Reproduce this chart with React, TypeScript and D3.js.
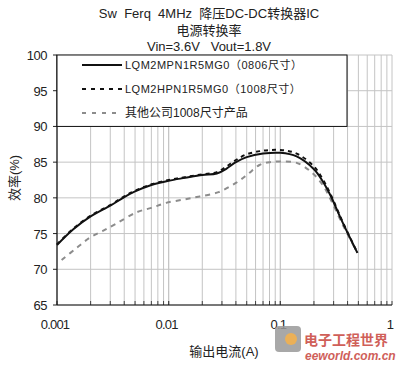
import React, { useEffect, useRef } from 'react'
import * as d3 from 'd3'

const currents1 = [0.001, 0.0014, 0.002, 0.003, 0.004, 0.005, 0.007, 0.01, 0.014, 0.02, 0.027, 0.033, 0.04, 0.05, 0.07, 0.1, 0.14, 0.2, 0.24, 0.28, 0.36, 0.49]
const effMP = [73.4, 75.6, 77.4, 78.9, 80.1, 80.9, 81.8, 82.4, 82.8, 83.2, 83.4, 84.1, 85.0, 85.7, 86.2, 86.3, 85.8, 84.0, 82.3, 80.4, 76.6, 72.3]
const effHP = [73.5, 75.7, 77.5, 79.0, 80.2, 81.0, 81.9, 82.5, 82.9, 83.3, 83.6, 84.4, 85.3, 86.1, 86.6, 86.7, 86.2, 84.4, 82.6, 80.6, 76.7, 72.3]

const currents3 = [0.0011, 0.0015, 0.002, 0.0026, 0.0034, 0.0052, 0.007, 0.0095, 0.014, 0.019, 0.028, 0.04, 0.051, 0.065, 0.08, 0.1, 0.14, 0.19, 0.24, 0.29, 0.36, 0.49]
const effOther = [71.3, 73.0, 74.5, 75.4, 76.4, 78.0, 78.6, 79.3, 79.8, 80.2, 80.8, 82.1, 83.3, 84.6, 85.0, 85.1, 84.9, 83.6, 81.8, 79.4, 76.3, 72.3]

const yTicks = [65, 70, 75, 80, 85, 90, 95, 100]
const xTicks = [0.001, 0.01, 0.1, 1]
const xTickLabels = ['0.001', '0.01', '0.1', '1']
const legendLabels = ['LQM2MPN1R5MG0（0806尺寸）', 'LQM2HPN1R5MG0（1008尺寸）', '其他公司1008尺寸产品']

const FONT = '"Liberation Sans", Arial, "Noto Sans CJK SC", sans-serif'

export default function App() {
  const ref = useRef<SVGSVGElement>(null)

  useEffect(() => {
    const svg = d3.select(ref.current)
    svg.selectAll('*').remove()

    const x = d3.scaleLog().domain([0.001, 1]).range([57, 392])
    const y = d3.scaleLinear().domain([65, 100]).range([305, 55])

    const minor: number[] = []
    for (let d = 0.001; d < 1; d *= 10) {
      for (let k = 1; k <= 10; k++) minor.push(+(d * k).toPrecision(3))
    }

    const g = svg.append('g')

    // grid
    g.selectAll('.vg').data(minor).enter().append('line')
      .attr('x1', d => x(d)).attr('x2', d => x(d))
      .attr('y1', y(100)).attr('y2', y(65))
      .attr('stroke', '#c4c4c4').attr('stroke-width', 1)
    g.selectAll('.hg').data(yTicks).enter().append('line')
      .attr('x1', x(0.001)).attr('x2', x(1))
      .attr('y1', d => y(d)).attr('y2', d => y(d))
      .attr('stroke', '#c4c4c4').attr('stroke-width', 1)

    // ticks on bottom axis (inside)
    g.selectAll('.bt').data(minor).enter().append('line')
      .attr('x1', d => x(d)).attr('x2', d => x(d))
      .attr('y1', y(65)).attr('y2', y(65) - 4)
      .attr('stroke', '#444')
    g.selectAll('.lt').data(yTicks).enter().append('line')
      .attr('x1', x(0.001) - 4).attr('x2', x(0.001))
      .attr('y1', d => y(d)).attr('y2', d => y(d))
      .attr('stroke', '#222')

    // axes
    g.append('line').attr('x1', x(0.001)).attr('x2', x(0.001)).attr('y1', y(100)).attr('y2', y(65)).attr('stroke', '#111').attr('stroke-width', 1.2)
    g.append('line').attr('x1', x(0.001)).attr('x2', x(1)).attr('y1', y(65)).attr('y2', y(65)).attr('stroke', '#111').attr('stroke-width', 1.2)

    // curves
    const mk = (xs: number[], vs: number[]) => xs.map((c, i) => [c, vs[i]] as [number, number])
    const line = d3.line<[number, number]>().x(d => x(d[0])).y(d => y(d[1])).curve(d3.curveCatmullRom.alpha(0.5))

    g.append('path').attr('d', line(mk(currents3, effOther))!)
      .attr('fill', 'none').attr('stroke', '#8c8c8c').attr('stroke-width', 2).attr('stroke-dasharray', '5,5')
    g.append('path').attr('d', line(mk(currents1, effHP))!)
      .attr('fill', 'none').attr('stroke', '#111').attr('stroke-width', 2).attr('stroke-dasharray', '4,4')
    g.append('path').attr('d', line(mk(currents1, effMP))!)
      .attr('fill', 'none').attr('stroke', '#111').attr('stroke-width', 2)

    // legend box
    g.append('rect').attr('x', x(0.001)).attr('y', y(100)).attr('width', 290).attr('height', y(90) - y(100))
      .attr('fill', '#fff').attr('stroke', '#111').attr('stroke-width', 1)
    const styles = [
      { stroke: '#111', dash: null },
      { stroke: '#111', dash: '4,5' },
      { stroke: '#8c8c8c', dash: '4,6' },
    ]
    legendLabels.forEach((t, i) => {
      const ly = 65 + i * 24
      g.append('line').attr('x1', 82).attr('x2', 122).attr('y1', ly).attr('y2', ly)
        .attr('stroke', styles[i].stroke).attr('stroke-width', 2)
        .attr('stroke-dasharray', styles[i].dash)
      g.append('text').attr('x', 125).attr('y', ly + 4).text(t)
        .attr('font-family', FONT).attr('font-size', i < 2 ? 11 : 12)
        .attr('letter-spacing', i < 2 ? 0.5 : 0).attr('fill', '#222')
    })

    // tick labels
    g.selectAll('.yl').data(yTicks).enter().append('text')
      .attr('x', 47).attr('y', d => y(d) + 5).attr('text-anchor', 'end')
      .attr('font-family', FONT).attr('font-size', 13).attr('letter-spacing', -0.5).attr('fill', '#222')
      .text(d => String(d))
    g.selectAll('.xl').data(xTicks).enter().append('text')
      .attr('x', d => x(d) - 2).attr('y', 329).attr('text-anchor', 'middle')
      .attr('font-family', FONT).attr('font-size', 13).attr('letter-spacing', -0.8).attr('fill', '#222')
      .text((d, i) => xTickLabels[i])

    // titles
    const title = [
      { t: 'Sw  Ferq  4MHz  降压DC-DC转换器IC', y: 18 },
      { t: '电源转换率', y: 35 },
      { t: 'Vin=3.6V   Vout=1.8V', y: 51 },
    ]
    title.forEach(d => {
      g.append('text').attr('x', 209).attr('y', d.y).attr('text-anchor', 'middle')
        .style('white-space', 'pre')
        .attr('font-family', FONT).attr('font-size', 13).attr('fill', '#222').text(d.t)
    })

    // axis titles
    g.append('text').attr('transform', 'translate(19,178) rotate(-90)').attr('text-anchor', 'middle')
      .attr('font-family', FONT).attr('font-size', 13).attr('fill', '#222').text('效率(%)')
    g.append('text').attr('x', 224).attr('y', 356).attr('text-anchor', 'middle')
      .attr('font-family', FONT).attr('font-size', 13).attr('fill', '#222').text('输出电流(A)')

    // watermark
    const wm = g.append('g').attr('opacity', 0.85)
    wm.append('rect').attr('x', 275).attr('y', 326).attr('width', 26).attr('height', 26).attr('rx', 4).attr('fill', '#9a9a9a')
    wm.append('circle').attr('cx', 291).attr('cy', 339).attr('r', 6).attr('fill', '#e8a33a')
    wm.append('text').attr('x', 304).attr('y', 345).text('电子工程世界')
      .attr('font-family', FONT).attr('font-size', 14).attr('font-weight', 'bold').attr('fill', '#c8443c')
    wm.append('text').attr('x', 305).attr('y', 360).text('eeworld.com.cn')
      .attr('font-family', FONT).attr('font-size', 12).attr('font-weight', 'bold').attr('font-style', 'italic').attr('fill', '#c8443c')
  }, [])

  return (
    <svg ref={ref} width={400} height={365}
      style={{ position: 'absolute', left: 0, top: 0, background: '#fff' }} />
  )
}
